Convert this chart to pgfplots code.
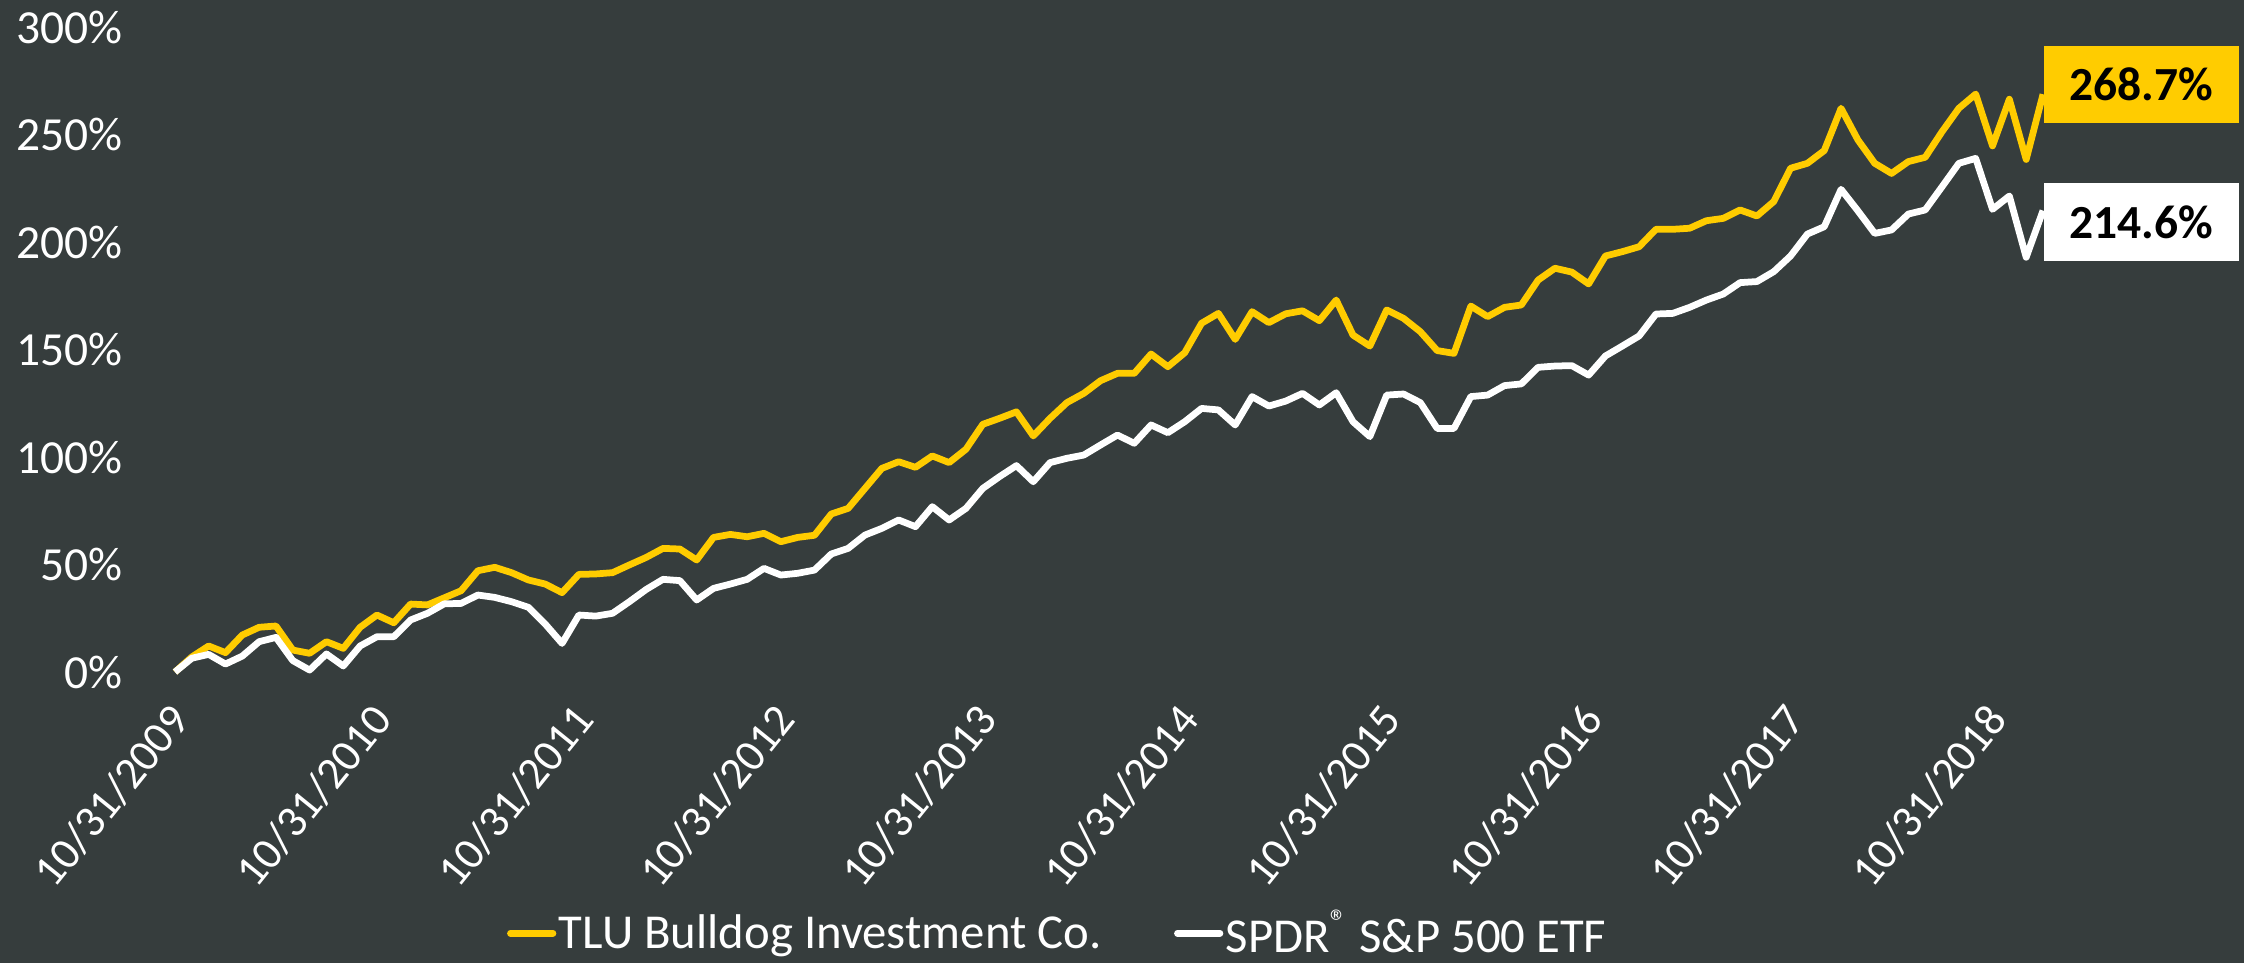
\documentclass[border=0pt]{standalone}
\usepackage{fontspec}
\setmainfont{Carlito}
\usepackage{pgfplots}
\pgfplotsset{compat=1.18}

\definecolor{bg}{RGB}{54,61,61}
\definecolor{tlu}{RGB}{255,204,0}

\begin{document}
\begin{tikzpicture}[x=1pt,y=1pt]
% dark page background, also the size of the picture
\path[use as bounding box, fill=bg] (-70,-116.4) rectangle (827.6,268.8);

\begin{axis}[
    at={(0,0)}, anchor=south west,
    width=747.2pt, height=258pt, scale only axis,
    xmin=0, xmax=111, ymin=0, ymax=300,
    clip=false,
    axis line style={draw=none},
    tick style={draw=none},
    ytick={0,50,...,300},
    yticklabel={\pgfmathprintnumber{\tick}\%},
    /pgf/number format/assume math mode=true,
    yticklabel style={anchor=east, inner sep=0pt, xshift=-20.8pt,
        text=white, font=\fontsize{19}{19}\selectfont},
    xtick={0,12,...,108},
    xticklabels={10/31/2009,10/31/2010,10/31/2011,10/31/2012,10/31/2013,
        10/31/2014,10/31/2015,10/31/2016,10/31/2017,10/31/2018},
    xticklabel style={rotate=51, anchor=east, inner sep=0pt,
        xshift=-10.9pt, yshift=-11.6pt,
        text=white, font=\fontsize{18}{18}\selectfont},
    legend columns=2,
    legend style={at={(axis description cs:0.4727,-0.405)}, anchor=center,
        draw=none, fill=none, text=white,
        font=\fontsize{19.5}{19.5}\selectfont,
        nodes={inner sep=1pt},
        /tikz/every even column/.append style={column sep=28pt}},
    legend image code/.code={\draw[#1, line cap=round] (0pt,0pt) -- (17pt,0pt);},
]

% TLU Bulldog Investment Co. (month index from 10/31/2009)
\addplot[tlu, line width=2.7pt, line join=round] coordinates {
(0,0) (1,7) (2,12.1) (3,9) (4,17.2) (5,20.8) (6,21.4) (7,10.2) (8,8.7) (9,14.1)
(10,11) (11,20.8) (12,26.5) (13,22.9) (14,31.6) (15,31.2) (16,34.5) (17,37.8) (18,47.1) (19,48.7)
(20,46.2) (21,42.8) (22,40.9) (23,36.9) (24,45.4) (25,45.6) (26,46.2) (27,49.8) (28,53.3) (29,57.5)
(30,57.2) (31,52.1) (32,62.6) (33,64) (34,62.9) (35,64.5) (36,60.6) (37,62.6) (38,63.6) (39,73.5)
(40,76.1) (41,85.4) (42,94.7) (43,97.8) (44,95.2) (45,100.5) (46,97.4) (47,103.6) (48,115.2) (49,118)
(50,121) (51,109.8) (52,118) (53,125.3) (54,129.6) (55,135.5) (56,138.9) (57,138.9) (58,147.9) (59,142)
(60,148.5) (61,162.2) (62,166.8) (63,154.7) (64,167.6) (65,162.5) (66,166.6) (67,168) (68,163.4) (69,173)
(70,156.7) (71,151.6) (72,168.4) (73,164.5) (74,158.3) (75,149.5) (76,148.2) (77,170.2) (78,165.3) (79,169.6)
(80,170.7) (81,182.3) (82,187.8) (83,186) (84,180.5) (85,193.5) (86,195.5) (87,197.8) (88,205.9) (89,205.9)
(90,206.4) (91,209.9) (92,211) (93,214.9) (94,212.1) (95,218.8) (96,234.3) (97,236.6) (98,242.5) (99,262.2)
(100,247.5) (101,236.6) (102,231.9) (103,237.4) (104,239.4) (105,251.3) (106,262.2) (107,268.8) (108,244.7) (109,266.4)
(110,238.4) (111,268.7)
};
\addlegendentry{TLU Bulldog Investment Co.}

% SPDR S&P 500 ETF
\addplot[white, line width=2.7pt, line join=round] coordinates {
(0,0) (1,6.4) (2,8.2) (3,3.7) (4,7.4) (5,14.1) (6,16.1) (7,5.3) (8,0.9) (9,8.4)
(10,2.8) (11,12.1) (12,16.4) (13,16.4) (14,24.2) (15,27.3) (16,31.7) (17,31.9) (18,35.8) (19,34.7)
(20,32.7) (21,30.1) (22,22.3) (23,13.3) (24,26.5) (25,26) (26,27.3) (27,32.7) (28,38.4) (29,43.1)
(30,42.5) (31,33.5) (32,38.9) (33,40.9) (34,43.1) (35,48.2) (36,45.1) (37,45.9) (38,47.4) (39,54.9)
(40,57.5) (41,63.7) (42,66.8) (43,70.7) (44,67.6) (45,76.9) (46,70.7) (47,76.1) (48,85.4) (49,90.9)
(50,96) (51,88.5) (52,97.4) (53,99.4) (54,100.9) (55,105.6) (56,110.2) (57,106.4) (58,114.9) (59,111.3)
(60,116.4) (61,122.6) (62,121.9) (63,114.9) (64,128.1) (65,123.7) (66,126) (67,129.6) (68,124.2) (69,129.9)
(70,116.4) (71,109.5) (72,128.8) (73,129.3) (74,125.3) (75,113.3) (76,113.3) (77,128.1) (78,128.8) (79,133.2)
(80,134) (81,141.7) (82,142.3) (83,142.5) (84,138.1) (85,147) (86,151.6) (87,156.3) (88,166.5) (89,166.8)
(90,169.6) (91,173) (92,175.8) (93,181.1) (94,181.6) (95,186.2) (96,193.5) (97,203.7) (98,207.1) (99,224.5)
(100,214.5) (101,204) (102,205.6) (103,213) (104,214.9) (105,225.7) (106,236.6) (107,238.9) (108,215.2) (109,221.4)
(110,192.9) (111,214.6)
};
\addlegendentry{SPDR\textsuperscript{®} S\&P 500 ETF}

% end-value boxes
\node[anchor=west, fill=tlu, text=black, minimum width=78pt, minimum height=31pt,
      inner sep=0pt, font=\bfseries\fontsize{19}{19}\selectfont]
      at (axis cs:111,273.3) {268.7\%};
\node[anchor=west, fill=white, text=black, minimum width=78pt, minimum height=31pt,
      inner sep=0pt, font=\bfseries\fontsize{19}{19}\selectfont]
      at (axis cs:111,209.3) {214.6\%};
\end{axis}
\end{tikzpicture}
\end{document}
